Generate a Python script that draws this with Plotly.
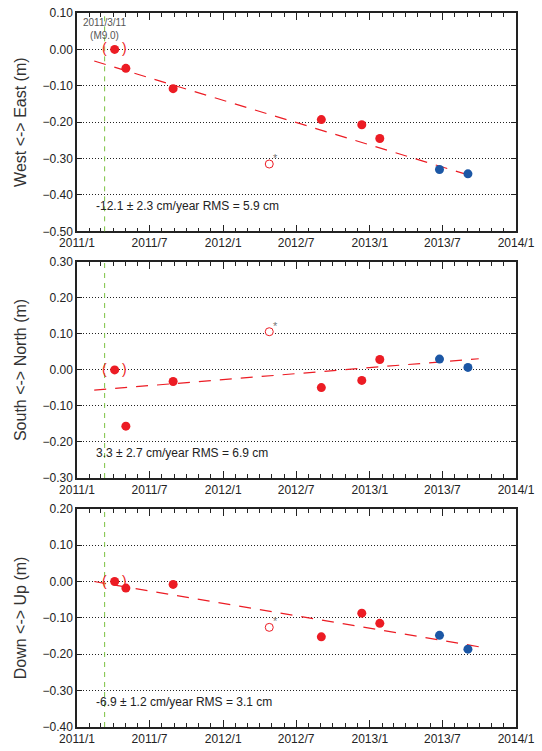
import plotly.graph_objects as go

# ---- data ----
ref_date = "2011-04-05"
quake_date = "2011-03-11"
dates_red = ["2011-05-03", "2011-08-29", "2012-09-02", "2012-12-12", "2013-01-26"]
dates_blue = ["2013-06-24", "2013-09-03"]
outlier_date = "2012-04-25"

ew_ref = 0.0
ew_red = [-0.052, -0.108, -0.193, -0.207, -0.245]
ew_blue = [-0.330, -0.342]
ew_out = -0.315
ew_trend_dates = ["2011-02-13", "2013-09-16"]
ew_trend = [-0.032, -0.349]

ns_ref = 0.0
ns_red = [-0.156, -0.032, -0.049, -0.029, 0.029]
ns_blue = [0.030, 0.007]
ns_out = 0.106
ns_trend_dates = ["2011-02-13", "2013-09-30"]
ns_trend = [-0.056, 0.031]

ud_ref = 0.0
ud_red = [-0.018, -0.008, -0.152, -0.087, -0.115]
ud_blue = [-0.148, -0.186]
ud_out = -0.126
ud_trend_dates = ["2011-02-13", "2013-10-04"]
ud_trend = [0.0, -0.180]

titles = ["West <-> East (m)", "South <-> North (m)", "Down <-> Up (m)"]
stats = ["-12.1 ± 2.3 cm/year RMS = 5.9 cm",
         "3.3 ± 2.7 cm/year RMS = 6.9 cm",
         "-6.9 ± 1.2 cm/year RMS = 3.1 cm"]
y_ranges = [[-0.50, 0.10], [-0.30, 0.30], [-0.40, 0.20]]
x_tickvals = ["2011-01-01", "2011-07-01", "2012-01-01", "2012-07-01",
              "2013-01-01", "2013-07-01", "2014-01-01"]
x_ticktext = ["2011/1", "2011/7", "2012/1", "2012/7", "2013/1", "2013/7", "2014/1"]
quake_label = "2011/3/11<br>(M9.0)"

RED = "#ec1c24"
BLUE = "#1c57a5"
GREEN = "#7cc242"
FONT = "Liberation Sans, Arial, sans-serif"

panels = [
    (ew_ref, ew_red, ew_blue, ew_out, ew_trend_dates, ew_trend),
    (ns_ref, ns_red, ns_blue, ns_out, ns_trend_dates, ns_trend),
    (ud_ref, ud_red, ud_blue, ud_out, ud_trend_dates, ud_trend),
]
domains = [[0.6942, 1.0], [0.3487, 0.6515], [0.0, 0.3056]]

fig = go.Figure()
annotations = []
shapes = []

for i, (ref, red, blue, out, tdates, tvals) in enumerate(panels):
    n = "" if i == 0 else str(i + 1)
    xa, ya = "x" + n, "y" + n
    # trend line
    fig.add_trace(go.Scatter(x=tdates, y=tvals, mode="lines", xaxis=xa, yaxis=ya,
                             line=dict(color=RED, width=1.2, dash="12px,9px"),
                             showlegend=False, hoverinfo="skip"))
    # reference point
    fig.add_trace(go.Scatter(x=[ref_date], y=[ref], mode="markers", xaxis=xa, yaxis=ya,
                             marker=dict(color=RED, size=9), showlegend=False))
    # red points
    fig.add_trace(go.Scatter(x=dates_red, y=red, mode="markers", xaxis=xa, yaxis=ya,
                             marker=dict(color=RED, size=9), showlegend=False))
    # blue points
    fig.add_trace(go.Scatter(x=dates_blue, y=blue, mode="markers", xaxis=xa, yaxis=ya,
                             marker=dict(color=BLUE, size=9), showlegend=False))
    # outlier (open)
    fig.add_trace(go.Scatter(x=[outlier_date], y=[out], mode="markers", xaxis=xa, yaxis=ya,
                             marker=dict(color="white", size=8, line=dict(color=RED, width=1)),
                             showlegend=False))
    # parentheses around the reference point
    for txt, sh in (("(", -10), (")", 10)):
        annotations.append(dict(x=ref_date, y=ref, xref=xa, yref=ya, text=txt, showarrow=False,
                                xshift=sh, yshift=1, font=dict(color=RED, size=14, family=FONT)))
    # asterisk by the outlier
    annotations.append(dict(x=outlier_date, y=out, xref=xa, yref=ya, text="*", showarrow=False,
                            xshift=6, yshift=6, font=dict(color="#777", size=11, family=FONT)))
    # stats text
    annotations.append(dict(x="2011-02-13", y=y_ranges[i][0], xref=xa, yref=ya, text=stats[i],
                            showarrow=False, xanchor="left", yanchor="bottom", yshift=16,
                            font=dict(color="#222", size=12, family=FONT)))
    # quake vertical line
    shapes.append(dict(type="line", x0=quake_date, x1=quake_date, xref=xa,
                       y0=0, y1=1, yref=ya + " domain",
                       line=dict(color=GREEN, width=1, dash="5px,5px")))

    fig.update_layout(**{
        "xaxis" + n: dict(type="date", range=["2011-01-01", "2014-01-01"], anchor=ya,
                          tickmode="array", tickvals=x_tickvals, ticktext=x_ticktext,
                          ticks="inside", ticklen=7, tickwidth=1, tickcolor="#222",
                          showline=True, linecolor="#222", linewidth=1.5, mirror="ticks",
                          showgrid=False, zeroline=False, automargin=False,
                          minor=dict(dtick="M1", tick0="2011-01-01", ticks="inside",
                                     ticklen=4, tickcolor="#222", showgrid=False),
                          tickfont=dict(size=12, color="#222", family=FONT)),
        "yaxis" + n: dict(range=y_ranges[i], domain=domains[i], anchor=xa, dtick=0.1,
                          tickformat=".2f", ticks="inside", ticklen=5, tickcolor="#222",
                          showline=True, linecolor="#222", linewidth=1.5, mirror="ticks",
                          showgrid=True, gridcolor="#222", griddash="1px,2px", gridwidth=1,
                          zeroline=False, automargin=False,
                          title=dict(text=titles[i], standoff=12,
                                     font=dict(size=16, color="#333", family=FONT)),
                          tickfont=dict(size=12, color="#222", family=FONT)),
    })

annotations.append(dict(x=quake_date, y=0.10, xref="x", yref="y", text=quake_label,
                        showarrow=False, yanchor="top", yshift=-2,
                        font=dict(color="#555", size=10, family=FONT)))

fig.update_layout(width=542, height=751, margin=dict(l=77, r=26, t=13, b=24),
                  plot_bgcolor="white", paper_bgcolor="white",
                  annotations=annotations, shapes=shapes,
                  font=dict(family=FONT))

fig.write_html("out.html", config={"displayModeBar": False},
               post_script="document.body.style.margin='0';document.body.style.overflow='hidden';")
